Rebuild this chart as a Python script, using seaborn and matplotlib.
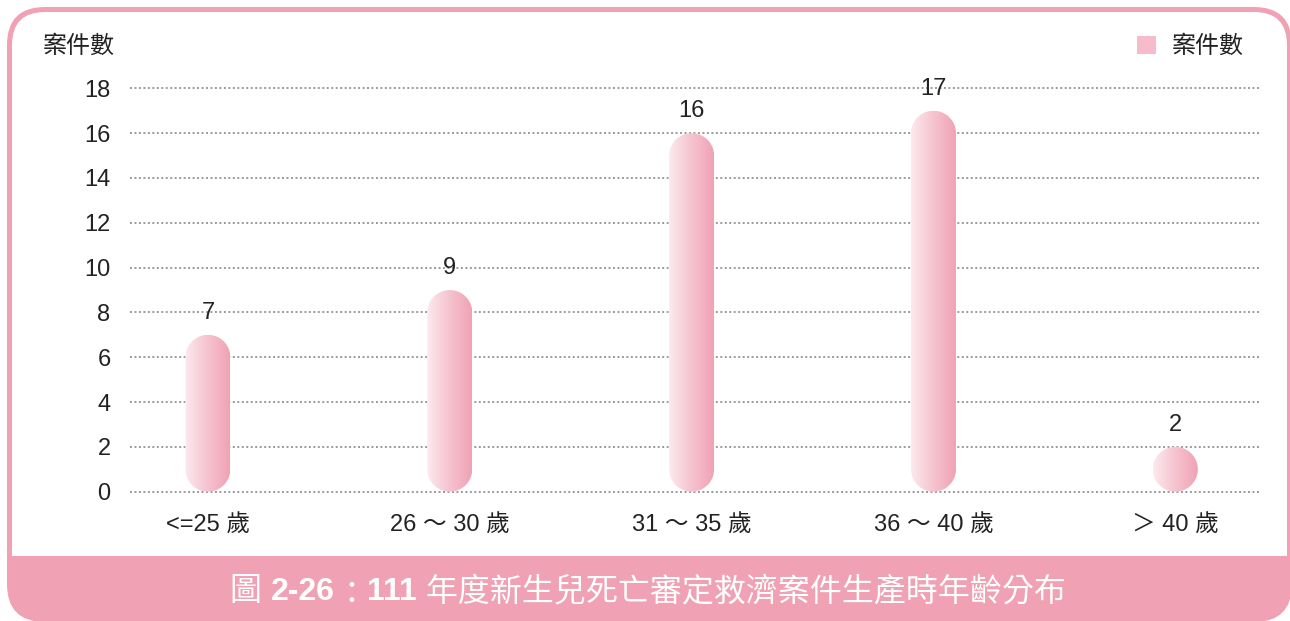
import numpy as np
import matplotlib
matplotlib.use("Agg")
import matplotlib.pyplot as plt
import seaborn as sns
from matplotlib.patches import FancyBboxPatch, PathPatch, Patch
from matplotlib.path import Path
from matplotlib.colors import LinearSegmentedColormap

# data
categories = ["<=25 歲", "26 ～ 30 歲", "31 ～ 35 歲", "36 ～ 40 歲", "＞ 40 歲"]
counts = [7, 9, 16, 17, 2]
y_ticks = [0, 2, 4, 6, 8, 10, 12, 14, 16, 18]
series_name = "案件數"
title_parts = ["圖 ", "2-26", "：", "111", " 年度新生兒死亡審定救濟案件生產時年齡分布"]
title_weights = ["normal", "bold", "normal", "bold", "normal"]

PINK = "#F0A1B3"
FONTS = ["Liberation Sans", "Noto Sans CJK TC", "DejaVu Sans"]

sns.set_theme(style="white")
plt.rcParams["font.family"] = FONTS

W, H = 1290, 621
fig = plt.figure(figsize=(W / 100, H / 100), dpi=100)

# background frame drawn in pixel coordinates
bg = fig.add_axes([0, 0, 1, 1], zorder=0)
bg.set_xlim(0, W)
bg.set_ylim(H, 0)
bg.axis("off")
bg.add_patch(FancyBboxPatch((7, 7), 1285, 615, boxstyle="round,pad=0,rounding_size=38",
                            fc=PINK, ec="none"))
# white panel: rounded top, square bottom edge at the title band
bg.add_patch(FancyBboxPatch((12, 12), 1275, 200, boxstyle="round,pad=0,rounding_size=33",
                            fc="white", ec="none"))
bg.add_patch(FancyBboxPatch((12, 100), 1275, 456, boxstyle="square,pad=0",
                            fc="white", ec="none"))

# main axes
ax = fig.add_axes([130 / W, 1 - 493 / H, 1130 / W, 406 / H], zorder=1)
ax.patch.set_alpha(0)
sns.barplot(x=categories, y=counts, width=0.186, color="#F6BCCB", ax=ax)

xlim = (-0.322, 4.35)
ylim = (-0.06, 18.06)
ax.set_xlim(*xlim)
ax.set_ylim(*ylim)

px_x = 1130 / (xlim[1] - xlim[0])
px_y = 406 / (ylim[1] - ylim[0])

cmap = LinearSegmentedColormap.from_list("pinkgrad", ["#FCEAEE", "#F6C3CF", "#F0A2B5"])
grad = np.linspace(0, 1, 256).reshape(1, -1)


def capsule(x0, w, h):
    rx = w / 2
    ry = rx * px_x / px_y
    ry = min(ry, h / 2)
    cx = x0 + rx
    t_top = np.linspace(0, np.pi, 60)
    t_bot = np.linspace(np.pi, 2 * np.pi, 60)
    top = np.column_stack([cx + rx * np.cos(t_top), h - ry + ry * np.sin(t_top)])
    bot = np.column_stack([cx + rx * np.cos(t_bot), ry + ry * np.sin(t_bot)])
    verts = np.vstack([top, bot, top[:1]])
    codes = [Path.MOVETO] + [Path.LINETO] * (len(verts) - 2) + [Path.CLOSEPOLY]
    return Path(verts, codes)


for bar in list(ax.patches):
    x0, w, h = bar.get_x(), bar.get_width(), bar.get_height()
    bar.remove()
    cap = PathPatch(capsule(x0, w, h), fc="none", ec="none")
    ax.add_patch(cap)
    im = ax.imshow(grad, cmap=cmap, extent=(x0, x0 + w, 0, h), aspect="auto",
                   origin="lower", zorder=3)
    im.set_clip_path(cap)
    ax.text(x0 + w / 2, h + 22 / px_y, str(int(h)), ha="center", va="center",
            fontsize=17, color="#222222")

ax.set_xlim(*xlim)
ax.set_ylim(*ylim)

for t in y_ticks:
    ax.axhline(t, color="#9A9A9A", lw=1.4, ls=(0, (1, 1.3)), zorder=1)

ax.set_yticks(y_ticks)
ax.tick_params(axis="y", length=0, pad=14, labelsize=17, labelcolor="#222222")
ax.tick_params(axis="x", length=0, pad=15, labelsize=17, labelcolor="#222222")
sns.despine(ax=ax, left=True, bottom=True)
ax.set_xlabel("")
ax.set_ylabel("")

fig.text(43 / W, 1 - 47 / H, series_name, ha="left", va="center", fontsize=17.3, color="#222222")

ax.legend(handles=[Patch(fc="#F6BCCB", ec="none", label=series_name)],
          loc="center right", bbox_to_anchor=(1244 / W, 1 - 47 / H),
          bbox_transform=fig.transFigure, frameon=False, fontsize=17.3,
          handlelength=0.8, handleheight=0.8, handletextpad=0.65, borderpad=0,
          borderaxespad=0, labelcolor="#222222")

# title in the pink band, pieces placed side by side
fig.canvas.draw()
renderer = fig.canvas.get_renderer()
texts = []
for part, wt in zip(title_parts, title_weights):
    y_px = 596 if part == "：" else 592  # fullwidth colon sits high in Noto
    t = fig.text(0, 1 - y_px / H, part, ha="left", va="center", fontsize=23,
                 color="white", fontweight=wt)
    texts.append(t)
widths = [t.get_window_extent(renderer).width for t in texts]
x = 648 - sum(widths) / 2
for t, wd in zip(texts, widths):
    t.set_x(x / W)
    x += wd

fig.savefig("out.png", dpi=100)
